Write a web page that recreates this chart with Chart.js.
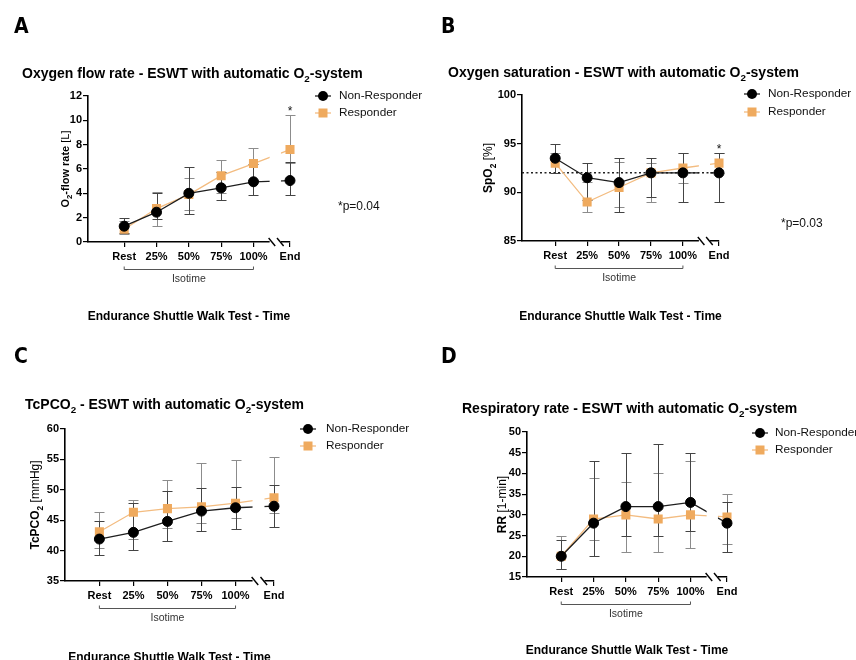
<!DOCTYPE html>
<html>
<head>
<meta charset="utf-8">
<script src="https://cdn.jsdelivr.net/npm/chart.js@4.4.0/dist/chart.umd.min.js"></script>
<style>
  body { margin: 0; background: #fff; width: 856px; height: 660px; overflow: hidden; position: relative; }
  .panel { position: absolute; width: 428px; height: 330px; }
</style>
</head>
<body>
<div class="panel" style="left:0;top:0"><canvas id="chartA" width="428" height="330"></canvas></div>
<div class="panel" style="left:428px;top:0"><canvas id="chartB" width="428" height="330"></canvas></div>
<div class="panel" style="left:0;top:330px"><canvas id="chartC" width="428" height="330"></canvas></div>
<div class="panel" style="left:428px;top:330px"><canvas id="chartD" width="428" height="330"></canvas></div>
<script>
// time points (End sits behind an axis break)
const categories = ['Rest', '25%', '50%', '75%', '100%', 'End'];
const catPos = [0, 1, 2, 3, 4, 5.13];
const seriesNames = ['Non-Responder', 'Responder'];

// A - oxygen flow rate [L]
const flowNon    = [1.3, 2.45, 4.0, 4.45, 4.95, 5.05];
const flowNonLo  = [0.75, 1.9, 2.3, 3.45, 3.9, 3.9];
const flowNonHi  = [2.0, 4.0, 6.2, 5.75, 6.4, 6.6];
const flowResp   = [1.05, 2.75, 3.9, 5.45, 6.45, 7.6];
const flowRespLo = [0.65, 1.35, 2.6, 4.0, 5.1, 6.5];
const flowRespHi = [1.7, 4.15, 5.25, 6.75, 7.75, 10.45];

// B - SpO2 [%]
const satNon    = [93.5, 91.5, 91.0, 92.0, 92.0, 92.0];
const satNonLo  = [92.0, 89.2, 88.0, 89.5, 89.0, 89.0];
const satNonHi  = [95.0, 93.0, 93.5, 93.5, 94.0, 94.0];
const satResp   = [93.0, 89.0, 90.5, 92.0, 92.5, 93.0];
const satRespLo = [92.0, 88.0, 88.5, 89.0, 91.0, 92.0];
const satRespHi = [94.0, 91.1, 93.1, 93.0, 94.0, 94.0];

// C - TcPCO2 [mmHg]
const co2Non    = [41.9, 43.0, 44.8, 46.5, 47.05, 47.3];
const co2NonLo  = [39.3, 40.1, 41.6, 43.2, 43.5, 43.8];
const co2NonHi  = [44.9, 47.8, 49.8, 50.35, 50.5, 50.8];
const co2Resp   = [43.1, 46.3, 46.9, 47.2, 47.8, 48.7];
const co2RespLo = [40.4, 41.85, 43.7, 44.5, 45.4, 46.2];
const co2RespHi = [46.4, 48.4, 51.6, 54.35, 54.9, 55.45];

// D - respiratory rate [1/min]
const rrNon    = [20, 28, 32, 32, 33, 28];
const rrNonLo  = [17, 20, 25, 25, 26, 21];
const rrNonHi  = [24, 43, 45, 47, 45, 33];
const rrResp   = [20, 29, 30, 29, 30, 29.5];
const rrRespLo = [17, 24, 21, 21, 22, 23];
const rrRespHi = [25, 39, 38, 40, 43, 35];

const FAM = '"Liberation Sans", Arial, Helvetica, sans-serif';
const NON_COL = '#000000', NON_LINE = '#1e1e1e', NON_ERR = '#444444';
const RESP_COL = '#EFAA5E', RESP_LINE = '#F3BC80', RESP_ERR = '#8c8c8c';
const YW = 40, XH = 22;
const GAP = [4.5, 4.85], SLASH = [4.57, 4.83];

// draw text made of pieces, some bold / regular / subscript
function drawParts(ctx, parts, x, y, size, align) {
  let total = 0;
  const info = parts.map(p => {
    const sub = p[1].includes('s');
    const f = (p[1].includes('b') ? 'bold ' : '') + (sub ? size * 0.7 : size) + 'px ' + FAM;
    ctx.font = f;
    const w = ctx.measureText(p[0]).width;
    total += w;
    return { f, w, sub };
  });
  let cx = align === 'center' ? x - total / 2 : x;
  ctx.textAlign = 'left';
  ctx.textBaseline = 'alphabetic';
  parts.forEach((p, i) => {
    ctx.font = info[i].f;
    ctx.fillText(p[0], cx, y + (info[i].sub ? size * 0.3 : 0));
    cx += info[i].w;
  });
}

function drawErr(ctx, xs, ys, lo, hi, color) {
  ctx.save();
  ctx.strokeStyle = color;
  ctx.lineWidth = 1;
  lo.forEach((l, i) => {
    const x = Math.round(xs.getPixelForValue(catPos[i])) + 0.5;
    const y1 = Math.round(ys.getPixelForValue(l)) + 0.5;
    const y2 = Math.round(ys.getPixelForValue(hi[i])) + 0.5;
    ctx.beginPath();
    ctx.moveTo(x, y1); ctx.lineTo(x, y2);
    ctx.moveTo(x - 5, y1); ctx.lineTo(x + 5, y1);
    ctx.moveTo(x - 5, y2); ctx.lineTo(x + 5, y2);
    ctx.stroke();
  });
  ctx.restore();
}

function makePanel(cfg) {
  const a = cfg.area;
  const decor = {
    id: 'decor',
    beforeDatasetsDraw(chart) {
      const ctx = chart.ctx, xs = chart.scales.x, ys = chart.scales.y;
      if (cfg.refLine !== undefined) {
        const y = ys.getPixelForValue(cfg.refLine);
        ctx.save();
        ctx.strokeStyle = '#222';
        ctx.lineWidth = 1.5;
        ctx.setLineDash([2, 2.5]);
        ctx.beginPath();
        ctx.moveTo(chart.chartArea.left, y);
        ctx.lineTo(xs.getPixelForValue(catPos[5]) + 2, y);
        ctx.stroke();
        ctx.restore();
      }
      drawErr(ctx, xs, ys, cfg.respLo, cfg.respHi, RESP_ERR);
      drawErr(ctx, xs, ys, cfg.nonLo, cfg.nonHi, NON_ERR);
    },
    beforeDatasetDraw(chart) {
      // leave the lines open at the axis break
      const ctx = chart.ctx, xs = chart.scales.x;
      const g0 = xs.getPixelForValue(GAP[0]), g1 = xs.getPixelForValue(GAP[1]);
      ctx.save();
      ctx.beginPath();
      ctx.rect(0, 0, g0, chart.height);
      ctx.rect(g1, 0, chart.width - g1, chart.height);
      ctx.clip();
    },
    afterDatasetDraw(chart) {
      chart.ctx.restore();
    },
    afterDraw(chart) {
      const ctx = chart.ctx, xs = chart.scales.x, ys = chart.scales.y, ca = chart.chartArea;
      ctx.save();
      // axis break
      const g0 = xs.getPixelForValue(GAP[0]), g1 = xs.getPixelForValue(GAP[1]);
      ctx.fillStyle = '#fff';
      ctx.fillRect(g0, ca.bottom - 3, g1 - g0, 6);
      ctx.strokeStyle = '#000';
      ctx.lineWidth = 1.4;
      SLASH.forEach(v => {
        const x = xs.getPixelForValue(v);
        ctx.beginPath();
        ctx.moveTo(x - 3.3, ca.bottom - 4);
        ctx.lineTo(x + 3.3, ca.bottom + 4);
        ctx.stroke();
      });

      ctx.fillStyle = '#000';
      // panel letter
      ctx.font = 'bold 21px "Liberation Sans Narrow", "DejaVu Sans Condensed", ' + FAM;
      ctx.textAlign = 'left';
      ctx.textBaseline = 'alphabetic';
      ctx.fillText(cfg.letter, cfg.letterX, 33);

      // title
      drawParts(ctx, cfg.title, cfg.titleX, cfg.titleY + 5, 14, 'left');

      // y axis title
      ctx.save();
      ctx.translate(cfg.yTitleX, (ca.top + ca.bottom) / 2);
      ctx.rotate(-Math.PI / 2);
      drawParts(ctx, cfg.yTitle, 0, 4, cfg.yTitleSize, 'center');
      ctx.restore();

      // legend
      const lg = cfg.legend;
      ctx.lineWidth = 1.3;
      ctx.strokeStyle = NON_LINE;
      ctx.beginPath(); ctx.moveTo(lg.x - 8, lg.y1); ctx.lineTo(lg.x + 8, lg.y1); ctx.stroke();
      ctx.fillStyle = NON_COL;
      ctx.beginPath(); ctx.arc(lg.x, lg.y1, 5, 0, Math.PI * 2); ctx.fill();
      ctx.strokeStyle = RESP_LINE;
      ctx.beginPath(); ctx.moveTo(lg.x - 8, lg.y2); ctx.lineTo(lg.x + 8, lg.y2); ctx.stroke();
      ctx.fillStyle = RESP_COL;
      ctx.fillRect(lg.x - 4.5, lg.y2 - 4.5, 9, 9);
      ctx.fillStyle = '#111';
      ctx.font = '11.8px ' + FAM;
      ctx.textBaseline = 'middle';
      ctx.fillText(seriesNames[0], lg.tx, lg.y1);
      ctx.fillText(seriesNames[1], lg.tx, lg.y2);

      // isotime bracket
      const xr = xs.getPixelForValue(catPos[0]), x100 = xs.getPixelForValue(catPos[4]);
      const by = Math.round(ca.bottom + 26.5) + 0.5;
      ctx.strokeStyle = '#555';
      ctx.lineWidth = 1;
      ctx.beginPath();
      ctx.moveTo(xr, by - 3); ctx.lineTo(xr, by); ctx.lineTo(x100, by); ctx.lineTo(x100, by - 3);
      ctx.stroke();
      ctx.fillStyle = '#333';
      ctx.font = '10.5px ' + FAM;
      ctx.textAlign = 'center';
      ctx.fillText('Isotime', xs.getPixelForValue(catPos[2]), ca.bottom + 37);

      // x axis title
      ctx.fillStyle = '#000';
      ctx.font = 'bold 12px ' + FAM;
      ctx.fillText('Endurance Shuttle Walk Test - Time', (ca.left + ca.right) / 2, cfg.bottomY);

      // significance
      if (cfg.pText) {
        ctx.font = '12px ' + FAM;
        ctx.textAlign = 'left';
        ctx.fillStyle = '#111';
        ctx.fillText(cfg.pText, cfg.pX, cfg.pY);
        const sx = xs.getPixelForValue(catPos[5]);
        const sy = ys.getPixelForValue(cfg.respHi[5]) - 7;
        ctx.textAlign = 'center';
        ctx.textBaseline = 'alphabetic';
        ctx.fillText('*', sx, sy + 7);
      }
      ctx.restore();
    }
  };

  const pts = vals => catPos.map((x, i) => ({ x, y: vals[i] }));
  const gridOpts = { drawOnChartArea: false, tickLength: 5, color: '#000', lineWidth: 1.2 };
  const tickFont = { family: FAM, size: 11, weight: 'bold' };

  new Chart(document.getElementById(cfg.id), {
    type: 'line',
    data: {
      datasets: [
        {
          label: seriesNames[0], data: pts(cfg.non),
          borderColor: NON_LINE, borderWidth: 1.3,
          pointStyle: 'circle', pointRadius: 5, pointBackgroundColor: NON_COL,
          pointBorderColor: NON_COL, pointBorderWidth: 1, clip: false
        },
        {
          label: seriesNames[1], data: pts(cfg.resp),
          borderColor: RESP_LINE, borderWidth: 1.3,
          pointStyle: 'rect', pointRadius: 6.4, pointBackgroundColor: RESP_COL,
          pointBorderColor: RESP_COL, pointBorderWidth: 0, clip: false
        }
      ]
    },
    options: {
      responsive: false,
      animation: false,
      devicePixelRatio: 1,
      events: [],
      layout: { padding: { left: a.l - YW, top: a.t, right: 428 - a.r, bottom: 330 - a.b - XH } },
      plugins: { legend: { display: false }, tooltip: { enabled: false } },
      scales: {
        x: {
          type: 'linear', min: cfg.xMin, max: catPos[5],
          afterBuildTicks: s => { s.ticks = catPos.map(v => ({ value: v })); },
          afterFit: s => { s.height = XH; },
          ticks: { autoSkip: false, maxRotation: 0, padding: 3, color: '#000', font: tickFont,
                   callback: (v, i) => categories[i] },
          grid: gridOpts,
          border: { color: '#000', width: 1.6 }
        },
        y: {
          min: cfg.yMin, max: cfg.yMax,
          afterFit: s => { s.width = YW; },
          ticks: { stepSize: cfg.yStep, padding: 1, color: '#000', font: tickFont },
          grid: gridOpts,
          border: { color: '#000', width: 1.6 }
        }
      }
    },
    plugins: [decor]
  });
}

makePanel({
  id: 'chartA', letter: 'A', letterX: 14,
  title: [['Oxygen flow rate - ESWT with automatic O', 'b'], ['2', 'bs'], ['-system', 'b']],
  titleX: 22, titleY: 73,
  yTitle: [['O', 'b'], ['2', 'bs'], ['-flow rate ', 'b'], ['[L]', 'r']], yTitleX: 65, yTitleSize: 11,
  area: { l: 88, r: 290, t: 96, b: 242 },
  xMin: -1.12, yMin: 0, yMax: 12, yStep: 2,
  non: flowNon, nonLo: flowNonLo, nonHi: flowNonHi,
  resp: flowResp, respLo: flowRespLo, respHi: flowRespHi,
  legend: { x: 323, tx: 339, y1: 96, y2: 113 },
  bottomY: 317, pText: '*p=0.04', pX: 338, pY: 207
});

makePanel({
  id: 'chartB', letter: 'B', letterX: 13,
  title: [['Oxygen saturation - ESWT with automatic O', 'b'], ['2', 'bs'], ['-system', 'b']],
  titleX: 20, titleY: 72,
  yTitle: [['SpO', 'b'], ['2', 'bs'], [' [%]', 'r']], yTitleX: 60, yTitleSize: 12,
  area: { l: 94, r: 291, t: 95, b: 241 },
  xMin: -1.04, yMin: 85, yMax: 100, yStep: 5, refLine: 92,
  non: satNon, nonLo: satNonLo, nonHi: satNonHi,
  resp: satResp, respLo: satRespLo, respHi: satRespHi,
  legend: { x: 324, tx: 340, y1: 94, y2: 112 },
  bottomY: 317, pText: '*p=0.03', pX: 353, pY: 224
});

makePanel({
  id: 'chartC', letter: 'C', letterX: 14,
  title: [['TcPCO', 'b'], ['2', 'bs'], [' - ESWT with automatic O', 'b'], ['2', 'bs'], ['-system', 'b']],
  titleX: 25, titleY: 74,
  yTitle: [['TcPCO', 'b'], ['2', 'bs'], [' [mmHg]', 'r']], yTitleX: 35, yTitleSize: 12,
  area: { l: 65, r: 274, t: 99, b: 251 },
  xMin: -1.01, yMin: 35, yMax: 60, yStep: 5,
  non: co2Non, nonLo: co2NonLo, nonHi: co2NonHi,
  resp: co2Resp, respLo: co2RespLo, respHi: co2RespHi,
  legend: { x: 308, tx: 326, y1: 99, y2: 116 },
  bottomY: 328
});

makePanel({
  id: 'chartD', letter: 'D', letterX: 13,
  title: [['Respiratory rate - ESWT with automatic O', 'b'], ['2', 'bs'], ['-system', 'b']],
  titleX: 34, titleY: 78,
  yTitle: [['RR ', 'b'], ['[1-min]', 'r']], yTitleX: 74, yTitleSize: 12,
  area: { l: 99, r: 299, t: 102, b: 247 },
  xMin: -1.06, yMin: 15, yMax: 50, yStep: 5,
  non: rrNon, nonLo: rrNonLo, nonHi: rrNonHi,
  resp: rrResp, respLo: rrRespLo, respHi: rrRespHi,
  legend: { x: 332, tx: 347, y1: 103, y2: 120 },
  bottomY: 321
});
</script>
</body>
</html>
